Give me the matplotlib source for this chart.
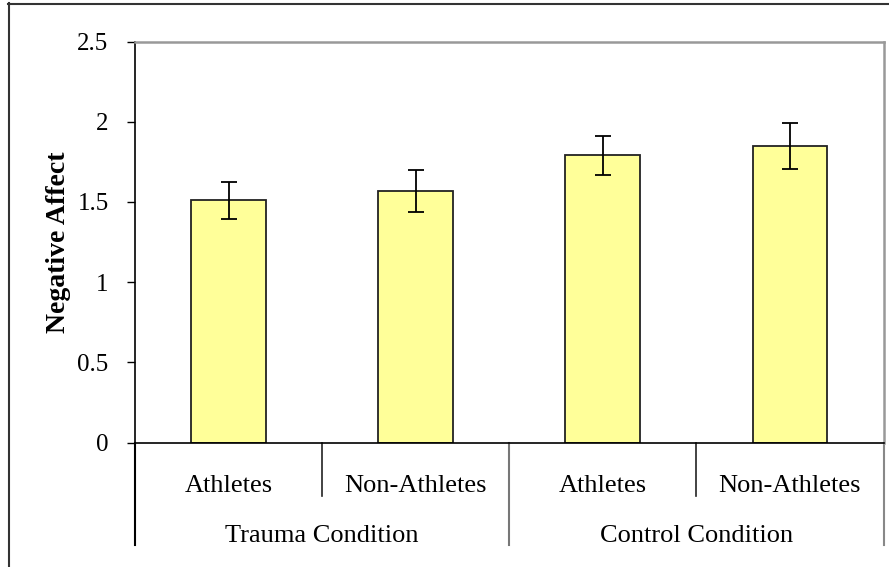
import matplotlib
matplotlib.use("Agg")
import matplotlib.pyplot as plt
from matplotlib.lines import Line2D
import matplotlib.transforms as mtransforms

# Data
categories = ["Athletes", "Non-Athletes", "Athletes", "Non-Athletes"]
groups = ["Trauma Condition", "Control Condition"]
values = [1.51, 1.57, 1.79, 1.85]
errors = [0.115, 0.13, 0.12, 0.145]
yticks = [0, 0.5, 1, 1.5, 2, 2.5]
ytick_labels = ["0", "0.5", "1", "1.5", "2", "2.5"]

W, H = 889, 567
DPI = 100
plt.rcParams['font.family'] = ['Liberation Serif', 'DejaVu Serif']

fig = plt.figure(figsize=(W / DPI, H / DPI), dpi=DPI)
fig.patch.set_facecolor("white")

ax_left, ax_right, ax_top, ax_bottom = 135, 883.5, 41.5, 442.5
ax = fig.add_axes([ax_left / W, (H - ax_bottom) / H,
                   (ax_right - ax_left) / W, (ax_bottom - ax_top) / H])

x = list(range(len(values)))
ax.bar(x, values, width=0.4, color="#FFFF99", edgecolor="#222222", linewidth=1.3, zorder=2)
ax.errorbar(x, values, yerr=errors, fmt="none", ecolor="black", elinewidth=1.3,
            capsize=5.5, capthick=1.3, zorder=3)

ax.set_xlim(-0.5, len(values) - 0.5)
ax.set_ylim(0, 2.5)
ax.set_yticks(yticks)
ax.set_yticklabels(ytick_labels, fontsize=18)
ax.tick_params(axis="y", direction="out", length=6, width=1, pad=13, colors="black")
ax.set_xticks([])

for s in ["left", "bottom"]:
    ax.spines[s].set_color("black")
    ax.spines[s].set_linewidth(1.2)
for s in ["top", "right"]:
    ax.spines[s].set_color("#999999")
    ax.spines[s].set_linewidth(1.8)

ax.set_ylabel("Negative Affect", fontsize=20, fontweight="bold")
ax.yaxis.set_label_coords(-0.085, 0.5)

# Category axis decorations
trans = mtransforms.blended_transform_factory(ax.transData, ax.transAxes)
axh = ax_bottom - ax_top
short_y = -(496 - ax_bottom) / axh
long_y = -(545 - ax_bottom) / axh
cat_y = -(491.5 - ax_bottom) / axh
grp_y = -(541.5 - ax_bottom) / axh

n = len(values)
# short separators between categories within a group
for xs in [0.5, 2.5]:
    ax.add_line(Line2D([xs, xs], [0, short_y], transform=trans, color="#222222",
                       linewidth=1.2, clip_on=False))
# long separators between groups
for xs, col in [(-0.5, "black"), (1.5, "#777777"), (n - 0.5, "#888888")]:
    ax.add_line(Line2D([xs, xs], [0, long_y], transform=trans, color=col,
                       linewidth=1.5, clip_on=False))

for i, c in enumerate(categories):
    ax.text(i, cat_y, c, transform=trans, ha="center", va="baseline", fontsize=19)
for g_i, g in enumerate(groups):
    ax.text(2 * g_i + 0.5, grp_y, g, transform=trans, ha="center", va="baseline", fontsize=19)

# Figure border (cut at right and bottom)
fig.add_artist(Line2D([8.5 / W, 8.5 / W], [1 - 3 / H, 0], transform=fig.transFigure,
                      color="#333333", linewidth=1.5))
fig.add_artist(Line2D([8 / W, 1], [1 - 3.5 / H, 1 - 3.5 / H], transform=fig.transFigure,
                      color="#333333", linewidth=1.5))

fig.savefig("out.png", dpi=DPI)
